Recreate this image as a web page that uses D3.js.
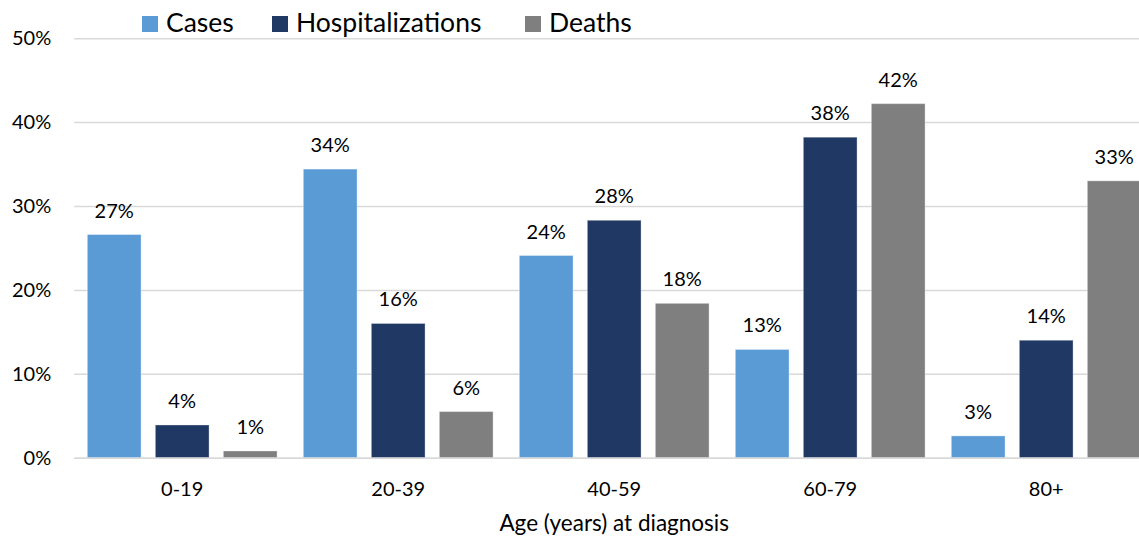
<!DOCTYPE html>
<html>
<head>
<meta charset="utf-8">
<script src="https://cdn.jsdelivr.net/npm/d3@7"></script>
<style>
  body { margin: 0; background: #fff; }
  svg { display: block; font-family: Lato, "Open Sans", sans-serif; }
</style>
</head>
<body>
<div class="chart"></div>
<script>
var ageGroups = ['0-19', '20-39', '40-59', '60-79', '80+'];
var seriesNames = ['Cases', 'Hospitalizations', 'Deaths'];
var cases = [26.6, 34.4, 24.1, 12.9, 2.6];
var hospitalizations = [3.9, 16.0, 28.3, 38.2, 14.0];
var deaths = [0.8, 5.5, 18.4, 42.2, 33.0];
var yTicks = [0, 10, 20, 30, 40, 50];
var colors = ['#5b9bd5', '#203864', '#7f7f7f'];

var width = 1139;
var height = 537;

var rows = ageGroups.map(function(g, i) {
  return { group: g, values: [cases[i], hospitalizations[i], deaths[i]] };
});

var svg = d3.select('.chart')
.append('svg')
.attr('width', width)
.attr('height', height);

var x0 = d3.scaleBand()
.domain(ageGroups)
.range([74.2, 1154.2]);

var x1 = d3.scaleBand()
.domain(seriesNames)
.range([0, x0.bandwidth()])
.paddingInner(0.21)
.paddingOuter(0.193);

var y = d3.scaleLinear()
.domain([0, 50])
.range([457.7, 38.2]);

var color = d3.scaleOrdinal().domain(seriesNames).range(colors);

// gridlines + y labels
var yAxis = svg.append('g')
.attr('transform', 'translate(74.2,0)')
.call(d3.axisLeft(y)
  .tickValues(yTicks)
  .tickFormat(function(d) { return d + '%'; })
  .tickSize(-1090)
  .tickPadding(23));
yAxis.select('.domain').remove();
yAxis.selectAll('line').attr('stroke', '#d9d9d9').attr('stroke-width', 1.5);
yAxis.selectAll('text')
.attr('fill', '#000')
.style('font-size', '20px')
.style('font-family', 'Lato, sans-serif');

// bars
var groups = svg.append('g')
.selectAll('g')
.data(rows)
.enter().append('g')
.attr('transform', function(d) { return 'translate(' + x0(d.group) + ',0)'; });

var bars = groups.selectAll('g.bar')
.data(function(d) {
  return d.values.map(function(v, j) { return { key: seriesNames[j], value: v }; });
})
.enter().append('g')
.attr('class', 'bar');

bars.append('rect')
.attr('x', function(d) { return x1(d.key); })
.attr('y', function(d) { return y(d.value); })
.attr('width', x1.bandwidth())
.attr('height', function(d) { return y(0) - y(d.value); })
.style('fill', function(d) { return color(d.key); })
.style('stroke', '#ffffff')
.style('stroke-opacity', 0.35)
.style('stroke-width', 1);

bars.append('text')
.attr('x', function(d) { return x1(d.key) + x1.bandwidth() / 2; })
.attr('y', function(d) { return y(d.value) - 17; })
.attr('text-anchor', 'middle')
.style('font-size', '20px')
.text(function(d) { return Math.round(d.value) + '%'; });

// x axis
var xAxis = svg.append('g')
.attr('transform', 'translate(0,' + y(0) + ')')
.call(d3.axisBottom(x0).tickSize(0).tickSizeOuter(0).tickPadding(24));
xAxis.select('.domain').attr('stroke', '#d9d9d9').attr('stroke-width', 1.5);
xAxis.selectAll('text')
.attr('fill', '#000')
.style('font-size', '20px')
.style('font-family', 'Lato, sans-serif');

svg.append('text')
.attr('x', (74.2 + 1154.2) / 2)
.attr('y', 531)
.attr('text-anchor', 'middle')
.style('font-size', '22.5px')
.text('Age (years) at diagnosis');

// legend
var legendX = [142, 272, 525];
var legend = svg.append('g')
.selectAll('g')
.data(seriesNames)
.enter().append('g')
.attr('transform', function(d, i) { return 'translate(' + legendX[i] + ',16)'; });

legend.append('rect')
.attr('width', 16)
.attr('height', 16)
.style('fill', function(d) { return color(d); });

legend.append('text')
.attr('x', 24)
.attr('y', 16)
.style('font-size', '26.5px')
.text(function(d) { return d; });
</script>
</body>
</html>
